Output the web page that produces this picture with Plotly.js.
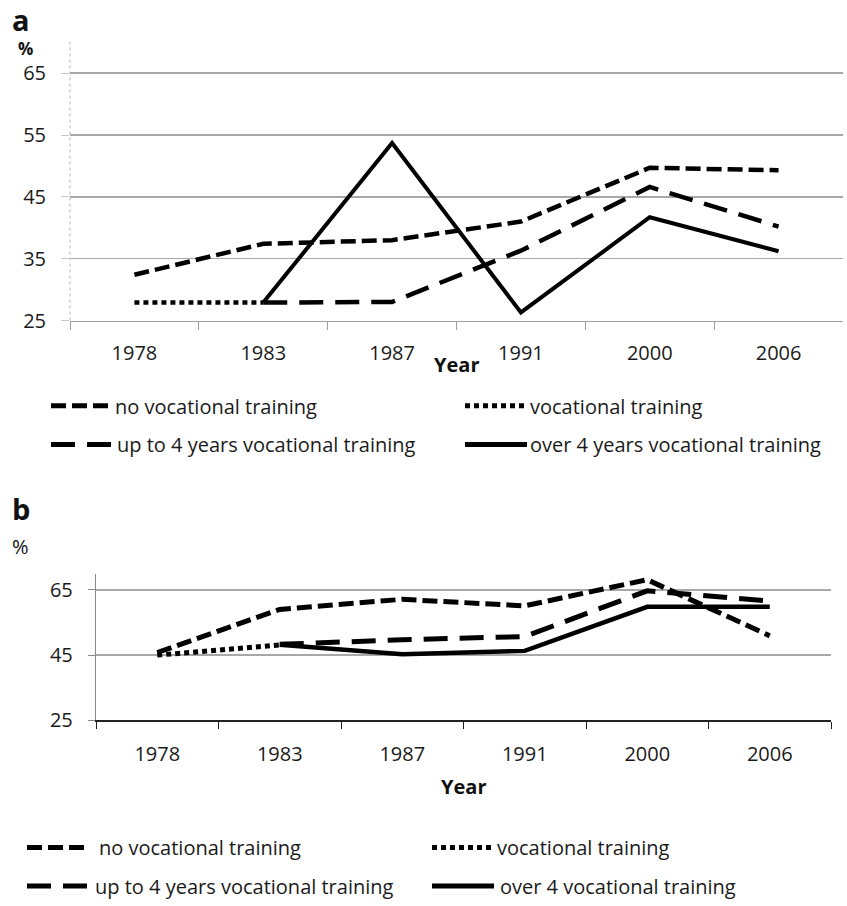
<!DOCTYPE html>
<html>
<head>
<meta charset="utf-8">
<script src="https://cdn.plot.ly/plotly-3.0.1.min.js"></script>
<style>html,body{margin:0;padding:0;background:#fff;}</style>
</head>
<body>
<div id="chart" style="width:847px;height:906px;"></div>
<script>
// ---- data ----
var years = ['1978', '1983', '1987', '1991', '2000', '2006'];
var yTicks = [25, 35, 45, 55, 65];
var yTicksB = [25, 45, 65];

// panel a
var aNoVoc  = [32.4, 37.4, 38.0, 41.0, 49.7, 49.3];
var aVoc    = [27.9, 27.9, null, null, null, null];
var aUpTo4  = [null, 27.9, 28.0, 36.3, 46.6, 40.2];
var aOver4  = [null, 27.9, 53.7, 26.3, 41.7, 36.2];
// panel b
var bNoVoc  = [45.8, 59.0, 62.1, 60.1, 68.1, 50.9];
var bVoc    = [45.0, 48.1, null, null, null, null];
var bUpTo4  = [null, 48.3, 49.7, 50.7, 64.7, 61.6];
var bOver4  = [null, 48.2, 45.3, 46.3, 59.8, 59.8];

var namesA = ['no vocational training', 'vocational training', 'up to 4 years vocational training', 'over 4 years vocational training'];
var namesB = ['no vocational training', 'vocational training', 'up to 4 years vocational training', 'over 4 vocational training'];

// ---- geometry helpers ----
var W = 847, H = 906;
function fx(px) { return px / W; }
function fy(py) { return 1 - py / H; }

var FONT = 'Open Sans, Liberation Sans, sans-serif';
var TXT = '#1a1a1a';

var dashes = ['15px,6px', '5px,4px', '24px,12px', 'solid'];
var widthsA = [4.5, 4.5, 4.5, 4];
var widthsB = [5, 5, 5, 4.5];

var seriesA = [aNoVoc, aVoc, aUpTo4, aOver4];
var seriesB = [bNoVoc, bVoc, bUpTo4, bOver4];

var traces = [];
for (var i = 0; i < 4; i++) {
  traces.push({
    type: 'scatter', mode: 'lines', x: years, y: seriesA[i], name: namesA[i],
    xaxis: 'x', yaxis: 'y', connectgaps: false,
    line: {color: '#000', width: widthsA[i], dash: dashes[i]},
    legend: i === 0 ? 'legend' : 'legend' + (i + 1)
  });
}
for (var j = 0; j < 4; j++) {
  traces.push({
    type: 'scatter', mode: 'lines', x: years, y: seriesB[j], name: namesB[j],
    xaxis: 'x2', yaxis: 'y2', connectgaps: false,
    line: {color: '#000', width: widthsB[j], dash: dashes[j]},
    legend: 'legend' + (j + 5)
  });
}

// legend positions (line start px, row centre px)
var legPos = [
  [51, 409], [465, 409], [51, 448], [465, 448],
  [27, 854], [432, 854], [27, 893], [432, 893]
];
var legItemW = [59, 60, 61, 60, 67, 60, 63, 63];

var layout = {
  width: W, height: H,
  margin: {l: 0, r: 0, t: 0, b: 0},
  paper_bgcolor: '#fff', plot_bgcolor: 'rgba(0,0,0,0)',
  font: {family: FONT, size: 20, color: TXT},
  showlegend: true,
  xaxis: {
    domain: [fx(70), fx(843)], anchor: 'y', type: 'category',
    range: [-0.5, 5.5], tickson: 'boundaries', ticks: 'outside', ticklen: 8,
    tickcolor: '#a0a0a0', showline: true, linecolor: '#a0a0a0', linewidth: 1.5,
    showgrid: false, zeroline: false, fixedrange: true,
    tickfont: {family: FONT, size: 20, color: TXT}, ticklabelstandoff: 14
  },
  yaxis: {
    domain: [fy(323), fy(42)], anchor: 'x', range: [25, 70.1],
    tickvals: yTicks, ticktext: yTicks.map(String), ticks: 'outside', ticklen: 8,
    tickcolor: '#c8c8c8', showline: false, showgrid: true, gridcolor: '#a8a8a8',
    gridwidth: 1.5, zeroline: false, fixedrange: true,
    tickfont: {family: FONT, size: 20, color: TXT}, ticklabelstandoff: 11
  },
  xaxis2: {
    domain: [fx(96), fx(831)], anchor: 'y2', type: 'category',
    range: [-0.5, 5.5], tickson: 'boundaries', ticks: 'outside', ticklen: 7,
    tickcolor: '#222', showline: true, linecolor: '#222', linewidth: 1.5,
    showgrid: false, zeroline: false, fixedrange: true,
    tickfont: {family: FONT, size: 20, color: TXT}, ticklabelstandoff: 15
  },
  yaxis2: {
    domain: [fy(726), fy(578)], anchor: 'x2', range: [25, 70],
    tickvals: yTicksB, ticktext: yTicksB.map(String), ticks: 'outside', ticklen: 7,
    tickcolor: '#888', showline: true, linecolor: '#888', linewidth: 1.2,
    showgrid: true, gridcolor: '#a8a8a8', gridwidth: 1.5, zeroline: false,
    fixedrange: true, tickfont: {family: FONT, size: 20, color: TXT}, ticklabelstandoff: 11
  },
  shapes: [
    {type: 'line', xref: 'x domain', yref: 'y domain', x0: 0, x1: 0, y0: 0, y1: 1,
     line: {color: '#b4b4b4', width: 1, dash: 'dot'}}
  ],
  annotations: [
    {text: '<b>a</b>', x: fx(10), y: fy(20), xref: 'paper', yref: 'paper', xanchor: 'left', yanchor: 'middle', showarrow: false, font: {family: FONT, size: 29, color: '#111'}},
    {text: '<b>%</b>', x: fx(16), y: fy(49), xref: 'paper', yref: 'paper', xanchor: 'left', yanchor: 'middle', showarrow: false, font: {family: FONT, size: 17, color: '#111'}},
    {text: '<b>Year</b>', x: fx(456), y: fy(367), xref: 'paper', yref: 'paper', xanchor: 'center', yanchor: 'middle', showarrow: false, font: {family: FONT, size: 20, color: '#111'}},
    {text: '<b>b</b>', x: fx(10), y: fy(512), xref: 'paper', yref: 'paper', xanchor: 'left', yanchor: 'middle', showarrow: false, font: {family: FONT, size: 29, color: '#111'}},
    {text: '%', x: fx(10), y: fy(551), xref: 'paper', yref: 'paper', xanchor: 'left', yanchor: 'middle', showarrow: false, font: {family: FONT, size: 20, color: '#111'}},
    {text: '<b>Year</b>', x: fx(463), y: fy(793), xref: 'paper', yref: 'paper', xanchor: 'center', yanchor: 'middle', showarrow: false, font: {family: FONT, size: 20, color: '#111'}}
  ]
};

for (var k = 0; k < 8; k++) {
  var key = k === 0 ? 'legend' : 'legend' + (k + 1);
  layout[key] = {
    x: fx(legPos[k][0] - 5), y: fy(legPos[k][1]), xref: 'paper', yref: 'paper',
    xanchor: 'left', yanchor: 'middle', orientation: 'h',
    bgcolor: 'rgba(0,0,0,0)', borderwidth: 0, itemwidth: legItemW[k],
    font: {family: FONT, size: 20, color: TXT}, itemclick: false, itemdoubleclick: false
  };
}

Plotly.newPlot('chart', traces, layout, {displayModeBar: false, staticPlot: true}).then(function (gd) {
  // lengthen legend line samples to match the reference
  var paths = gd.querySelectorAll('.legendlines path');
  paths.forEach(function (p) {
    p.setAttribute('d', 'M5,0h62');
    p.style.strokeWidth = '5px';
  });
});
</script>
</body>
</html>
